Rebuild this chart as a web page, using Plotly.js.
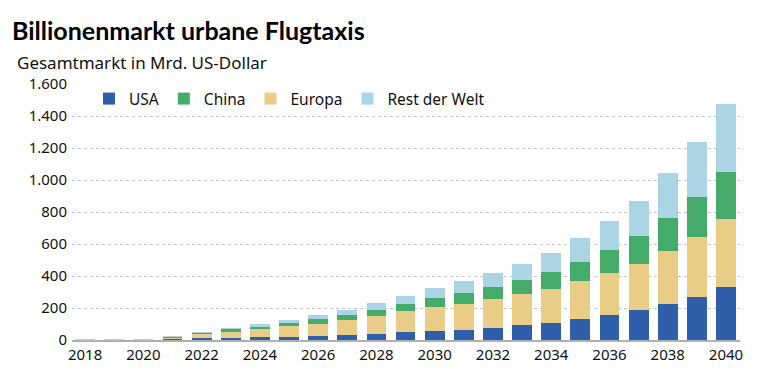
<!DOCTYPE html>
<html>
<head>
<meta charset="utf-8">
<script src="https://cdn.plot.ly/plotly-3.0.1.min.js"></script>
<style>html,body{margin:0;padding:0;background:#fff;}#chart{width:763px;height:376px;}</style>
</head>
<body>
<div id="chart"></div>
<script>
const years = [2018,2019,2020,2021,2022,2023,2024,2025,2026,2027,2028,2029,2030,2031,2032,2033,2034,2035,2036,2037,2038,2039,2040];
const usa    = [2,2,2,5,10,15,17,21,25,31,37,47,56,65,77,92,106,129,156,185,225,271,329];
const europa = [2,2,2,10,26,38,52,67,77,95,115,132,150,162,179,195,215,240,263,292,331,375,429];
const china  = [1,1,1,5,8,14,15,17,28,31,35,43,54,65,75,88,102,121,141,171,204,247,292];
const rest   = [1,1,1,3,9,11,17,21,25,33,44,54,63,75,88,100,121,150,186,223,282,345,423];
const seriesNames = ['USA','Europa','China','Rest der Welt'];
const seriesColors = ['#2f5fab','#e9cd86','#45ab6a','#abd4e4'];
const legendRanks = [1,3,2,4];
const seriesData = [usa, europa, china, rest];
const xTicks = [2018,2020,2022,2024,2026,2028,2030,2032,2034,2036,2038,2040];

const TFONT = 'Lato, "Noto Sans", sans-serif';
const FONT = '"Noto Sans", sans-serif';
const traces = seriesData.map((d,i)=>({
  type:'bar', x:years, y:d, name:seriesNames[i],
  marker:{color:seriesColors[i], line:{width:0}},
  legendrank:legendRanks[i], hoverinfo:'skip'
}));

const layout = {
  width:763, height:376,
  margin:{l:72, r:23, t:84, b:36},
  paper_bgcolor:'#fff', plot_bgcolor:'#fff',
  barmode:'stack', bargap:0.32,
  separators:',.',
  font:{family:FONT, size:14, color:'#111'},
  title:{text:'<b>Billionenmarkt urbane Flugtaxis</b>', xref:'container', yref:'container',
         x:12/763, xanchor:'left', y:1-31/376, yanchor:'middle',
         font:{family:TFONT, size:25, color:'#000'}},
  annotations:[{text:'Gesamtmarkt in Mrd. US-Dollar', xref:'paper', yref:'paper',
    x:(15-72)/668, xanchor:'left', y:(340-62)/256, yanchor:'middle', showarrow:false,
    font:{family:FONT, size:17, color:'#111'}}],
  showlegend:true,
  legend:{orientation:'h', x:(89-72)/668, xanchor:'left', y:(340-99)/256, yanchor:'middle',
          font:{family:FONT, size:15.5, color:'#111'}, bgcolor:'rgba(0,0,0,0)', traceorder:'normal'},
  xaxis:{range:[2017.55, 2040.48], tickvals:xTicks, ticktext:xTicks.map(String),
         showgrid:false, zeroline:false, showline:true, linecolor:'#b0b0b0', linewidth:1.5,
         ticks:'', tickfont:{family:FONT, size:15, color:'#111'}, fixedrange:true},
  yaxis:{range:[0,1600], dtick:200, tickformat:',d', showgrid:true, gridcolor:'#c4c4c4',
         griddash:'dot', gridwidth:1, zeroline:false, showline:false, ticks:'',
         ticklabelstandoff:4, tickfont:{family:FONT, size:15, color:'#111'}, fixedrange:true}
};
Plotly.newPlot('chart', traces, layout, {displayModeBar:false, staticPlot:true});
</script>
</body>
</html>
